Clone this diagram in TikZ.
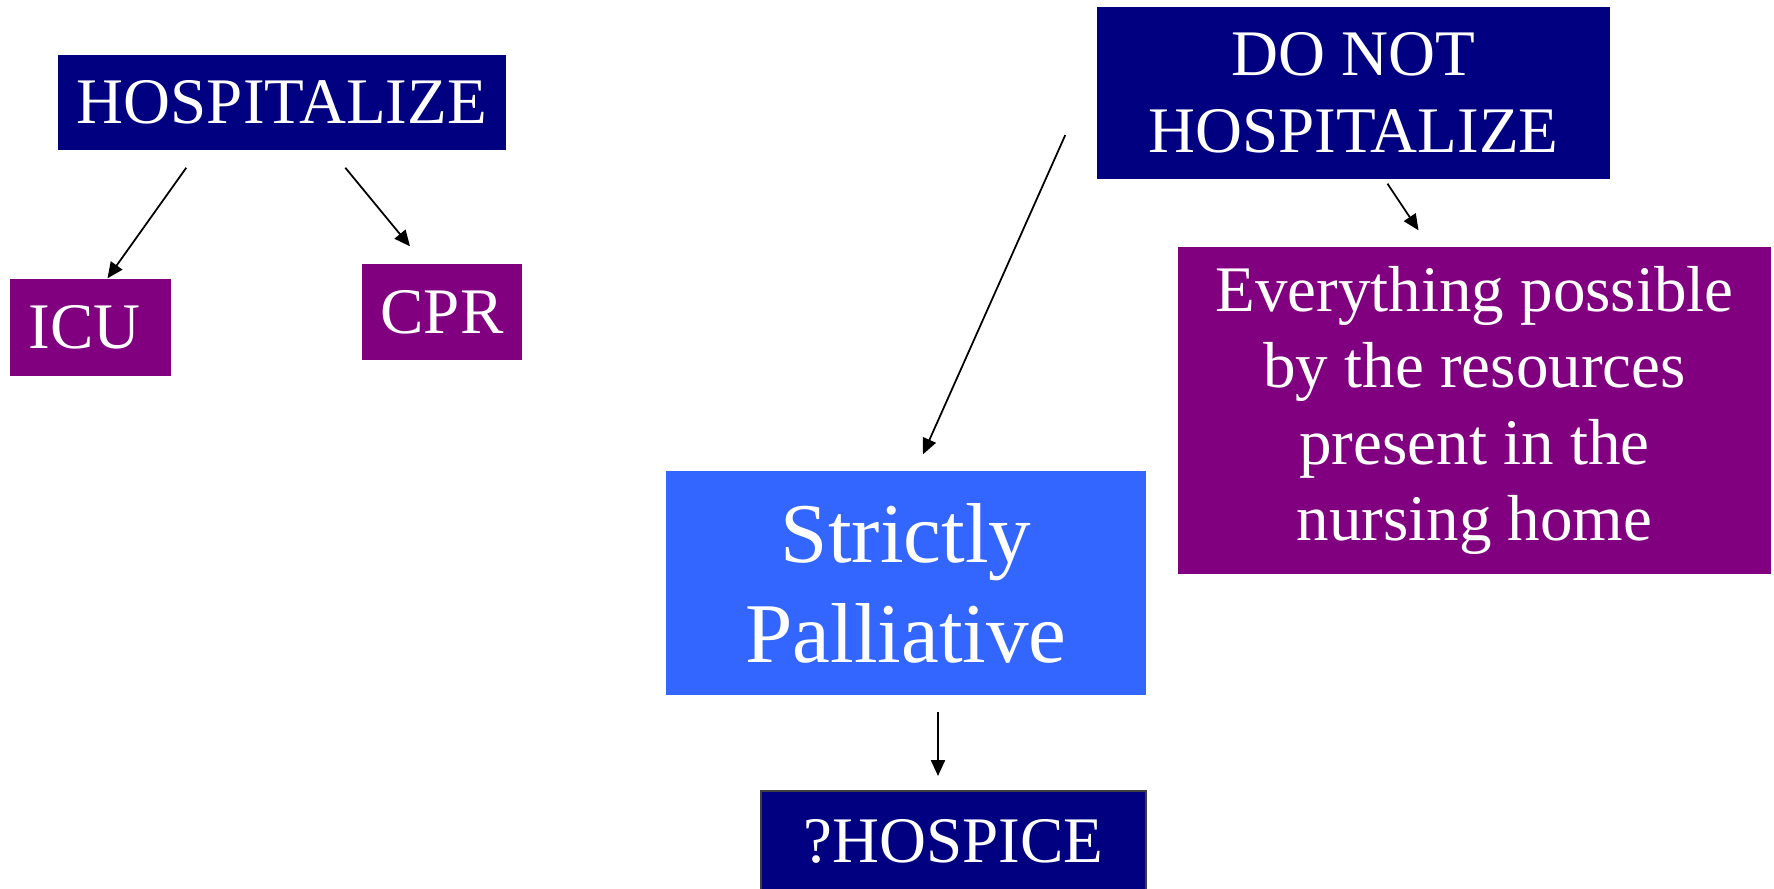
\documentclass[tikz,border=0pt]{standalone}
\usepackage{fontspec}
\setmainfont{Liberation Serif}
\usetikzlibrary{arrows.meta}
\definecolor{navybox}{RGB}{0,0,128}
\definecolor{plumbox}{RGB}{128,0,128}
\definecolor{skybox}{RGB}{51,102,255}
\begin{document}
\begin{tikzpicture}[font=\fontsize{18.5}{21.8}\selectfont,
  box/.style={text=white, inner sep=0pt, align=center},
  navy/.style={box, fill=navybox},
  plum/.style={box, fill=plumbox},
  arr/.style={-{Triangle[length=4.5pt,width=4pt]}, line width=0.5pt}]
  \useasboundingbox (0,0) rectangle (17.74,-8.88);
  % hospitalize branch
  \node[navy, minimum width=4.48cm, minimum height=0.95cm] (hosp) at (2.82,-1.025) {HOSPITALIZE};
  \node[plum, minimum width=1.61cm, minimum height=0.97cm] (icu) at (0.905,-3.275) {ICU\hspace{0.12cm}};
  \node[plum, minimum width=1.60cm, minimum height=0.96cm] (cpr) at (4.42,-3.12) {CPR};
  \draw[arr] ([xshift=1.29cm,yshift=-0.17cm]hosp.south west) -- ([xshift=0.17cm]icu.north);
  \draw[arr] ([xshift=2.88cm,yshift=-0.17cm]hosp.south west) -- ([xshift=-0.32cm,yshift=0.17cm]cpr.north);
  % do not hospitalize branch
  \node[navy, minimum width=5.13cm, minimum height=1.72cm] (dnh) at (13.535,-0.93) {DO NOT\\HOSPITALIZE};
  \node[plum, minimum width=5.93cm, minimum height=3.27cm] (ev) at (14.745,-4.105)
    {Everything possible\\by the resources\\present in the\\nursing home};
  \node[box, fill=skybox, minimum width=4.80cm, minimum height=2.24cm,
    font=\fontsize{24.2}{28.5}\selectfont] (sp) at (9.06,-5.83) {Strictly\\Palliative};
  \node[navy, draw=black!75, line width=0.6pt, minimum width=3.85cm, minimum height=1.0cm] (hospice) at (9.535,-8.41) {?HOSPICE};
  \draw[arr] ([xshift=0.34cm,yshift=-0.04cm]dnh.south) -- ([xshift=-0.56cm,yshift=0.16cm]ev.north);
  \draw[arr] ([xshift=-0.31cm,yshift=-0.42cm]dnh.west) -- ([xshift=0.17cm,yshift=0.16cm]sp.north);
  \draw[arr] ([xshift=0.32cm,yshift=-0.16cm]sp.south) -- ([xshift=-0.155cm,yshift=0.14cm]hospice.north);
\end{tikzpicture}
\end{document}
